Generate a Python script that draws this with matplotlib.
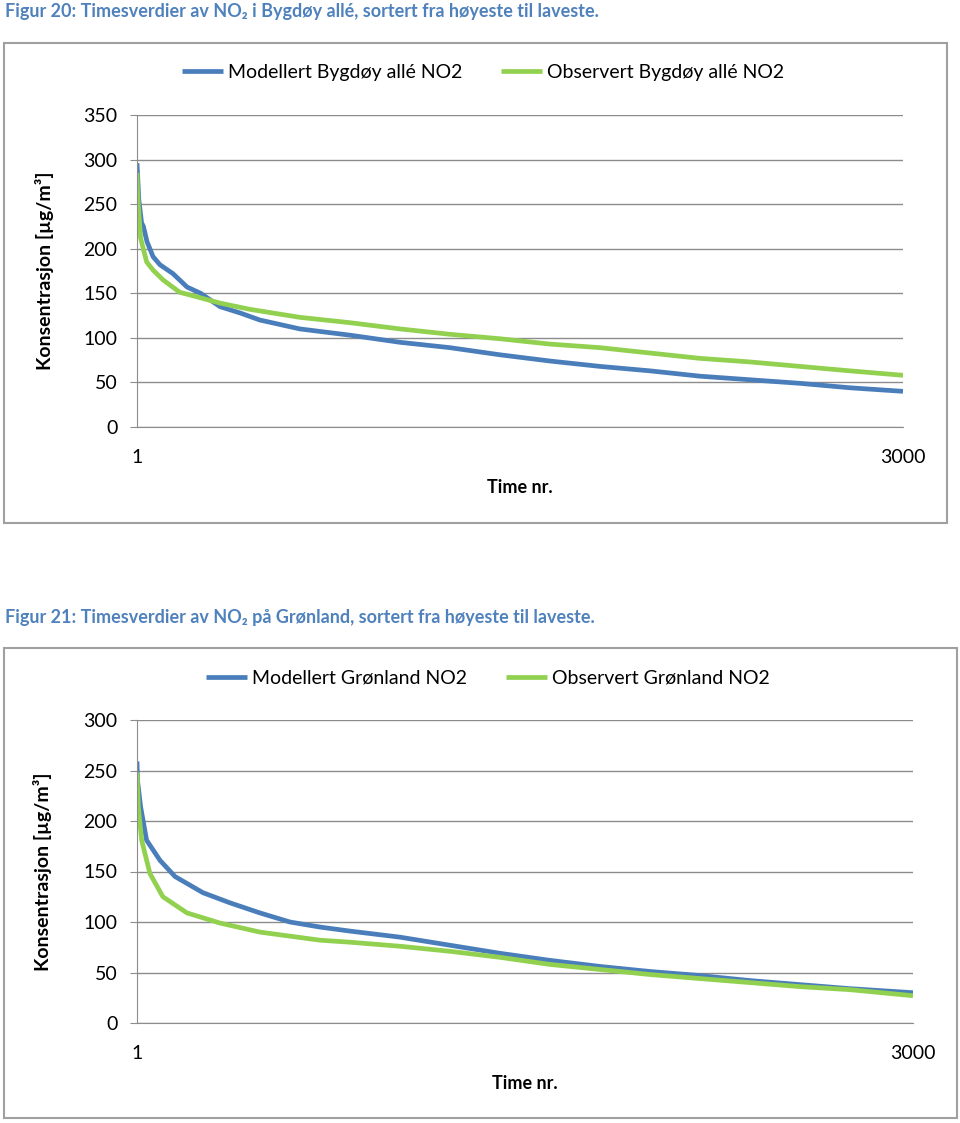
import matplotlib
matplotlib.use('Agg')
import matplotlib.pyplot as plt
from matplotlib.patches import Rectangle

plt.rcParams['font.family'] = ['Lato', 'DejaVu Sans']

# Figur 20 - Bygdøy allé (time nr., µg/m3)
bygdoy_mod_x = [1, 3, 8, 19, 26, 40, 64, 91, 142, 197, 250, 326, 404, 482, 639,
                835, 1031, 1226, 1422, 1618, 1813, 2009, 2205, 2400, 2596, 2792, 3000]
bygdoy_mod_y = [296, 285, 255, 229, 225, 208, 191, 182, 172, 157, 150, 135, 128, 120, 110,
                103, 95, 89, 81, 74, 68, 63, 57, 53, 49, 44, 40]
bygdoy_obs_x = [1, 3, 6, 15, 39, 64, 103, 169, 197, 326, 443, 639, 835, 1031, 1226,
                1422, 1618, 1813, 2009, 2205, 2400, 2596, 2792, 3000]
bygdoy_obs_y = [285, 265, 250, 212, 185, 176, 165, 151, 149, 139, 132, 123, 117, 110, 104,
                99, 93, 89, 83, 77, 73, 68, 63, 58]

# Figur 21 - Grønland
gronland_mod_x = [1, 3, 15, 38, 90, 148, 256, 360, 476, 592, 708, 824, 1017, 1210, 1404,
                  1597, 1790, 1983, 2176, 2370, 2563, 2756, 3000]
gronland_mod_y = [259, 240, 214, 181, 161, 145, 129, 119, 109, 100, 95, 91, 85, 77, 69,
                  62, 56, 51, 47, 42, 38, 34, 30]
gronland_obs_x = [1, 6, 19, 51, 101, 194, 321, 476, 708, 824, 1017, 1210, 1404,
                  1597, 1790, 1983, 2176, 2370, 2563, 2756, 3000]
gronland_obs_y = [248, 214, 181, 148, 125, 109, 99, 90, 82, 80, 76, 71, 65,
                  58, 53, 48, 44, 40, 36, 33, 27]

BLUE = '#4a7ebb'
GREEN = '#92d050'
GRID = '#8c8c8c'
CAPTION = '#4f81bd'

W, H = 960, 1123
fig = plt.figure(figsize=(W / 100, H / 100), dpi=100)


def px_box(x0, y0, x1, y1):
    return [x0 / W, 1 - y1 / H, (x1 - x0) / W, (y1 - y0) / H]


def chart(ax, mx, my, ox, oy, ymax, names):
    ax.plot(mx, my, color=BLUE, lw=3.4, label=names[0], solid_capstyle='butt')
    ax.plot(ox, oy, color=GREEN, lw=3.4, label=names[1], solid_capstyle='butt')
    ax.set_xlim(1, 3000)
    ax.set_ylim(0, ymax)
    ax.set_yticks(range(0, ymax + 1, 50))
    ax.set_xticks([1, 3000])
    ax.grid(axis='y', color=GRID, lw=1.0)
    ax.set_axisbelow(True)
    for s in ['top', 'right']:
        ax.spines[s].set_visible(False)
    ax.spines['left'].set_color(GRID)
    ax.spines['bottom'].set_color(GRID)
    ax.tick_params(axis='y', length=5, color=GRID, pad=9, labelsize=14)
    ax.tick_params(axis='x', length=0, pad=16, labelsize=14)
    ax.set_xlabel('Time nr.', fontsize=13, fontweight='bold', labelpad=9)
    ax.set_ylabel('Konsentrasjon [µg/m³]', fontsize=14, fontweight='bold')
    ax.yaxis.set_label_coords(-0.109, 0.5)
    ax.legend(loc='center', bbox_to_anchor=(0.452, 1.137), ncol=2, frameon=False,
              fontsize=14, handlelength=2.1, handletextpad=0.25, columnspacing=2.0)


# frames around each chart
fig.patches.append(Rectangle((4 / W, 1 - 523 / H), 943 / W, 480 / H, transform=fig.transFigure,
                             fill=False, edgecolor='#a0a0a0', lw=1.5))
fig.patches.append(Rectangle((4 / W, 1 - 1118 / H), 953 / W, 470 / H, transform=fig.transFigure,
                             fill=False, edgecolor='#a0a0a0', lw=1.5))

fig.text(5 / W, 1 - 12 / H, 'Figur 20: Timesverdier av NO₂ i Bygdøy allé, sortert fra høyeste til laveste.',
         color=CAPTION, fontsize=13, fontweight='bold', va='center', ha='left')
fig.text(5 / W, 1 - 617 / H, 'Figur 21: Timesverdier av NO₂ på Grønland, sortert fra høyeste til laveste.',
         color=CAPTION, fontsize=13, fontweight='bold', va='center', ha='left')

ax1 = fig.add_axes(px_box(137, 115, 903, 427))
chart(ax1, bygdoy_mod_x, bygdoy_mod_y, bygdoy_obs_x, bygdoy_obs_y, 350,
      ['Modellert Bygdøy allé NO2', 'Observert Bygdøy allé NO2'])

ax2 = fig.add_axes(px_box(137, 720, 913, 1023))
chart(ax2, gronland_mod_x, gronland_mod_y, gronland_obs_x, gronland_obs_y, 300,
      ['Modellert Grønland NO2', 'Observert Grønland NO2'])

fig.savefig('out.png', dpi=100, facecolor='white')
